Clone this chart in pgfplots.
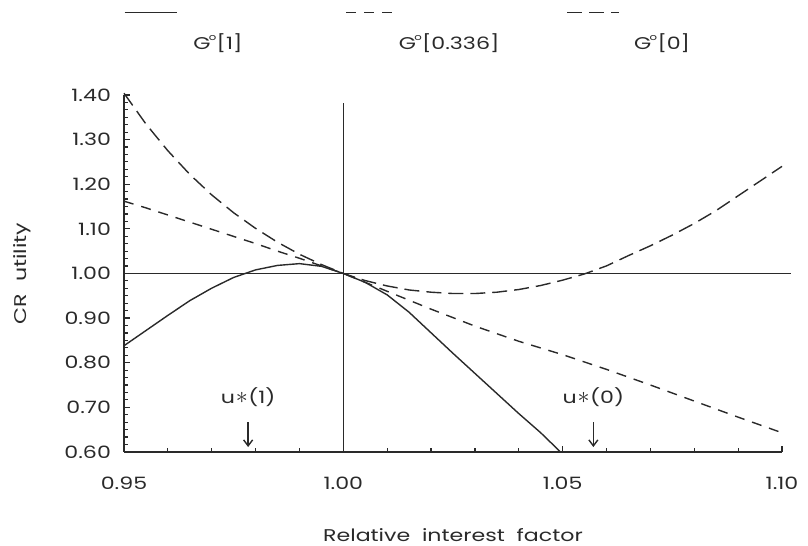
\documentclass[border=0pt]{standalone}
\usepackage{pgfplots}
\pgfplotsset{compat=1.18}
\usetikzlibrary{arrows.meta}
\usepackage{fontspec}
\setmainfont{Poppins}[FakeStretch=1.3]
\definecolor{ink}{HTML}{2A2A2A}
\newcommand{\Gr}{G\kern-0.1em\raisebox{0.55em}{\fontsize{4.5}{5}\selectfont o}\kern0.02em}
\newcommand{\ust}{u\kern0.05em{\fontsize{13}{13}\selectfont$\ast$}\kern0.03em}
\pgfplotstableread{
x y
0.950 0.838
0.955 0.872
0.960 0.906
0.965 0.939
0.970 0.967
0.975 0.991
0.980 1.008
0.985 1.018
0.990 1.022
0.995 1.016
1.000 1.000
1.005 0.980
1.010 0.952
1.015 0.913
1.020 0.867
1.025 0.821
1.030 0.776
1.035 0.731
1.040 0.686
1.045 0.643
1.0495 0.600
}\Gone
\pgfplotstableread{
x y
0.950 1.162
0.955 1.147
0.960 1.131
0.965 1.115
0.970 1.099
0.975 1.083
0.980 1.067
0.985 1.050
0.990 1.034
0.995 1.017
1.000 1.000
1.005 0.980
1.010 0.960
1.015 0.940
1.020 0.920
1.030 0.882
1.040 0.848
1.050 0.818
1.060 0.785
1.070 0.750
1.080 0.714
1.090 0.678
1.100 0.643
}\Gmid
\pgfplotstableread{
x y
0.950 1.404
0.955 1.335
0.960 1.275
0.965 1.222
0.970 1.176
0.975 1.136
0.980 1.101
0.985 1.070
0.990 1.043
0.995 1.020
1.000 1.000
1.005 0.984
1.010 0.972
1.015 0.963
1.020 0.958
1.025 0.955
1.030 0.955
1.035 0.958
1.040 0.964
1.045 0.973
1.050 0.985
1.055 0.999
1.060 1.017
1.065 1.040
1.070 1.062
1.075 1.086
1.080 1.112
1.085 1.141
1.090 1.174
1.095 1.207
1.100 1.240
}\Gzero
\begin{document}
\begin{tikzpicture}[font=\fontsize{8.5}{10}\selectfont, text=ink]
\begin{axis}[
  scale only axis,
  width=329pt, height=178.5pt,
  xmin=0.95, xmax=1.10, ymin=0.60, ymax=1.40,
  axis x line=bottom, axis y line=left,
  axis line style={-, line width=0.7pt, ink},
  clip=false,
  xtick={0.95,1.00,1.05,1.10},
  ytick={0.6,0.7,0.8,0.9,1.0,1.1,1.2,1.3,1.4},
  minor x tick num=4,
  minor y tick num=5,
  tick align=inside,
  major tick length=3pt, minor tick length=2pt,
  tick style={line width=0.6pt, ink},
  /pgf/number format/assume math mode=true,
  /pgf/number format/.cd, fixed, fixed zerofill, precision=2, /pgfplots/.cd,
  xticklabel style={yshift=-9pt},
  yticklabel style={xshift=-3pt},
  xlabel={Relative\ \ interest\ \ factor},
  ylabel={CR\ \ utility},
  every axis x label/.style={at={(axis description cs:0.5,0)}, anchor=center, yshift=-41.5pt},
  every axis y label/.style={at={(axis description cs:0,0.5)}, anchor=center, rotate=90, yshift=51pt},
  legend columns=3,
  legend style={draw=none, fill=none, at={(rel axis cs:0,1)}, anchor=south west,
    yshift=19pt, inner sep=0pt, outer sep=0pt, column sep=0pt, row sep=6pt,
    /tikz/every even column/.append style={column sep=0pt},
    /tikz/every odd column/.append style={column sep=0pt}},
  legend cell align=left,
  legend image code/.code={\draw[#1] (0pt,0pt) -- (26pt,0pt);},
  every axis plot/.append style={line width=0.7pt, ink},
]
\addlegendimage{solid, line width=0.7pt, ink}
\addlegendentry{\mbox{}}
\addlegendimage{dash pattern=on 5pt off 4pt, line width=0.7pt, ink}
\addlegendentry{\mbox{}}
\addlegendimage{dash pattern=on 7.5pt off 3.5pt, line width=0.7pt, ink}
\addlegendentry{\mbox{}}
\addlegendimage{empty legend}
\addlegendentry{\makebox[80pt][l]{\hspace{6pt}\Gr[1]}}
\addlegendimage{empty legend}
\addlegendentry{\makebox[80pt][l]{\hspace{-2pt}\Gr[0.336]}}
\addlegendimage{empty legend}
\addlegendentry{\makebox[80pt][l]{\hspace{5pt}\Gr[0]}}

\addplot[forget plot, solid] table[x=x,y=y] {\Gone};
\addplot[forget plot, dash pattern=on 5pt off 4pt] table[x=x,y=y] {\Gmid};
\addplot[forget plot, dash pattern=on 7.5pt off 3.5pt] table[x=x,y=y] {\Gzero};
\addplot[forget plot, solid] coordinates {(0.95,1.00) (1.102,1.00)};
\addplot[forget plot, solid] coordinates {(1.00,0.60) (1.00,1.383)};
\addplot[forget plot, -{Straight Barb[length=3pt,width=4.5pt]}, line width=0.7pt] coordinates {(0.9783,0.667) (0.9783,0.611)};
\addplot[forget plot, -{Straight Barb[length=3pt,width=4.5pt]}, line width=0.7pt] coordinates {(1.0570,0.667) (1.0570,0.611)};
\node at (axis cs:0.9783,0.7235) {\ust(1)};
\node at (axis cs:1.0570,0.7235) {\ust(0)};
\coordinate (BL) at (rel axis cs:-0.1884,-0.263);
\coordinate (TR) at (rel axis cs:1.0395,1.266);
\end{axis}
\pgfresetboundingbox
\path[use as bounding box] (BL) rectangle (TR);
\end{tikzpicture}
\end{document}
